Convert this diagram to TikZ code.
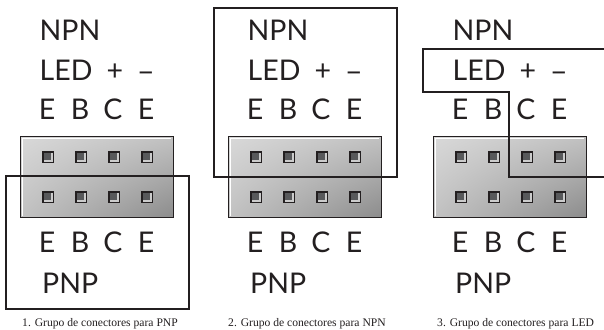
\documentclass[tikz,border=0pt]{standalone}
\usepackage{fontspec}
\usepackage{xcolor}
\setmainfont{Lato}
\newfontfamily\capfont{Liberation Serif}
\usetikzlibrary{positioning, shadings}
\definecolor{Frame_Black}{HTML}{231F20}
\definecolor{Pin_Dark}{HTML}{58595B}
\tikzset{
    pinlabel/.style={font=\fontsize{28.5}{29}\selectfont, text=Frame_Black, inner sep=0pt},
    grouplabel/.style={pinlabel, anchor=west},
    capnote/.style={font=\capfont\fontsize{11.6}{14}\selectfont, text=Frame_Black, anchor=west, inner sep=0pt},
    selectline/.style={draw=Frame_Black, line width=2.7pt, miter limit=10}
}
\begin{document}
\begin{tikzpicture}[x=1pt,y=-1pt]
    \useasboundingbox (0,0) rectangle (604,329);
    \fill[white] (0,0) rectangle (604,329);

    % The three connector blocks, one after the other
    % \bx = left edge of the header
    \foreach \bx/\tag in {20/a, 228/b, 433/c} {
        \begin{scope}[shift={(\bx,0)}]
            % Header body
            \shade[shading=bilinear interpolation, lower left=black!24, upper right=black!24, upper left=black!15, lower right=black!45] (0,136) rectangle (153,217);
            \draw[white, line width=1.6pt] (2.5,215.5) -- (2.5,138.5) -- (151,138.5);
            \draw[Frame_Black, line width=1pt] (0,136) rectangle (153,217);
            % Pins
            \foreach \x in {28, 61, 94, 127} {
                \foreach \y in {157, 197} {
                    \fill[Frame_Black] (\x-6,\y-6) rectangle (\x+6,\y+6);
                    \fill[black!20] (\x-4.5,\y-4.5) rectangle (\x+4.5,\y+4.5);
                    \fill[Pin_Dark] (\x-4.5,\y-4.5) rectangle (\x+2.8,\y+2.8);
                }
            }
            % Upper labels
            \node[grouplabel] (npn\tag) at (19.5,30) {NPN};
            \node[grouplabel] (led\tag) at (19.5,70) {LED};
            \node[pinlabel] (plus\tag) at (95,72) {+};
            \node[pinlabel] (minus\tag) at (126,77) {\char"2212};
            \foreach \x/\lbl/\n in {27/E/1, 60/B/2, 93/C/3, 126/E/4} {
                \node[pinlabel] (top\tag\n) at (\x,109) {\lbl};
            }
            % Lower labels
            \foreach \x/\lbl/\n in {27/E/1, 60/B/2, 93/C/3, 126/E/4} {
                \node[pinlabel] (bot\tag\n) at (\x,242) {\lbl};
            }
            \node[grouplabel] (pnp\tag) at (22,283) {PNP};
        \end{scope}
    }

    % Selection outlines
    \draw[selectline] (6,176) rectangle (189,309);
    \draw[selectline] (214,8) rectangle (397,177);
    \draw[selectline] (604,49) -- (423,49) -- (423,92) -- (509,92) -- (509,177) -- (604,177);

    % Captions
    \node[capnote] (capa) at (22,324) {1. Grupo de conectores para PNP};
    \node[capnote] (capb) at (228,324) {2. Grupo de conectores para NPN};
    \node[capnote] (capc) at (437,324) {3. Grupo de conectores para LED};
\end{tikzpicture}
\end{document}
